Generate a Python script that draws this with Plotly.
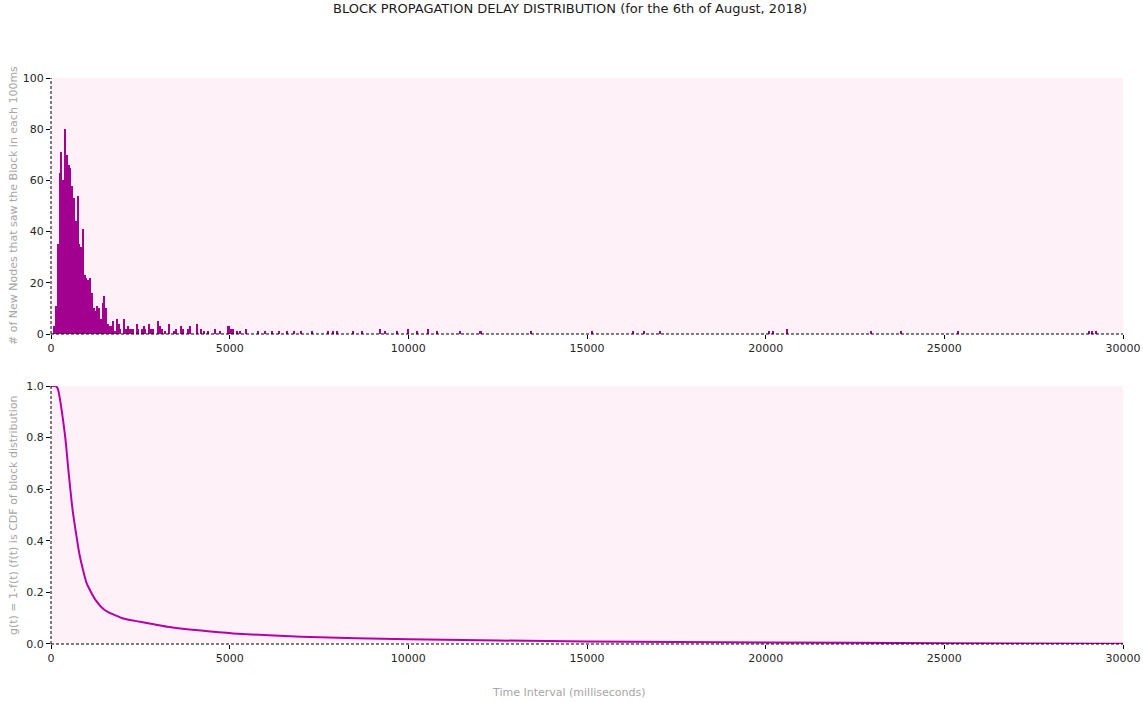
import plotly.graph_objects as go
from plotly.subplots import make_subplots

# ---- data ----
# histogram: bin position (ms) and number of new nodes
bin_times = [
    100, 150, 200, 250, 300, 350, 400, 450, 500, 550, 600, 650, 700, 750, 800, 850,
    900, 950, 1000, 1050, 1100, 1150, 1200, 1250, 1300, 1350, 1400, 1450, 1500, 1550,
    1600, 1650,
    1700, 1750, 1800, 1850, 1900, 1950, 2050, 2100, 2150, 2200, 2250, 2300, 2400, 2450,
    2550, 2600, 2650, 2750, 2800, 2850, 3000, 3050, 3100, 3200, 3300, 3450, 3500, 3650,
    3700, 3850, 3900, 4100, 4200, 4300, 4400, 4600, 4750, 4950, 5000, 5050, 5100, 5200,
    5300, 5450, 5800, 6000, 6200, 6400, 6600, 6800, 7000, 7300, 7750, 7900, 8000, 8450,
    8700, 9200, 9350, 9700, 10000, 10250, 10550, 10800, 11450, 12000, 12050, 13450,
    15150, 16300, 16600, 17050, 20100, 20200, 20600, 22950, 23800, 25400, 29050, 29150,
    29250,
]
bin_counts = [
    3, 11, 35, 63, 71, 60, 80, 70, 66, 65, 58, 53, 44, 54, 35, 34,
    41, 23, 22, 21, 22, 16, 10, 9, 11, 10, 6, 12, 15, 10,
    4, 3,
    3, 5, 1, 6, 4, 2, 6, 2, 3, 2, 2, 2, 4, 2,
    2, 3, 2, 4, 2, 2, 5, 3, 2, 1, 4, 1, 2, 3,
    2, 2, 3, 4, 2, 1, 1, 2, 1, 3, 3, 2, 2, 1,
    1, 2, 1, 1, 1, 1, 1, 1, 1, 1, 1, 1, 1, 1,
    1, 2, 1, 1, 2, 1, 2, 1, 1, 1, 1, 1,
    1, 1, 1, 1, 1, 1, 2, 1, 1, 1, 1, 1,
    1,
]

# survival curve g(t) = 1 - F(t)
cdf_times = [0, 100, 150, 200, 250, 300, 400, 500, 600, 700, 800, 900, 1000, 1250,
             1500, 2000, 2500, 3250, 4200, 5100, 7000, 10000, 15000, 20000, 25000, 30000]
cdf_values = [1.0, 1.0, 0.998, 0.985, 0.95, 0.905, 0.80, 0.655, 0.525, 0.43, 0.345, 0.285,
              0.235, 0.17, 0.132, 0.10, 0.086, 0.067, 0.052, 0.041, 0.028, 0.018, 0.010,
              0.006, 0.003, 0.001]

x_ticks = [0, 5000, 10000, 15000, 20000, 25000, 30000]

TITLE = "BLOCK PROPAGATION DELAY DISTRIBUTION (for the 6th of August, 2018)"
Y1_LABEL = "# of New Nodes that saw the Block in each 100ms"
Y2_LABEL = "g(t) = 1-f(t) (f(t) is CDF of block distribution"
X_LABEL = "Time Interval (milliseconds)"

BG = "#fff1f7"
BAR_COLOR = "#a2008e"
LINE_COLOR = "#b400a6"
FONT = "DejaVu Sans"

fig = make_subplots(rows=2, cols=1, vertical_spacing=0.0)

fig.add_trace(go.Bar(x=bin_times, y=bin_counts, width=42,
                     marker=dict(color=BAR_COLOR, line=dict(width=0)),
                     showlegend=False), row=1, col=1)
fig.add_trace(go.Scatter(x=cdf_times, y=cdf_values, mode="lines",
                         line=dict(color=LINE_COLOR, width=2, shape="spline", smoothing=0.6),
                         showlegend=False), row=2, col=1)

axis_common = dict(showgrid=False, zeroline=False, showline=False, ticks="outside",
                   ticklen=4, tickwidth=1, tickcolor="black", automargin=False,
                   tickfont=dict(family=FONT, size=11, color="#262626"))

fig.update_xaxes(range=[0, 30000], tickvals=x_ticks, ticktext=[str(v) for v in x_ticks],
                 **axis_common)
fig.update_yaxes(**axis_common)
fig.update_yaxes(range=[0, 100], tickvals=[0, 20, 40, 60, 80, 100], row=1, col=1)
fig.update_yaxes(range=[0, 1], tickvals=[0, 0.2, 0.4, 0.6, 0.8, 1.0], tickformat=".1f",
                 row=2, col=1)

fig.update_layout(
    width=1143, height=702,
    margin=dict(l=51, r=20, t=78, b=58),
    paper_bgcolor="white",
    plot_bgcolor=BG,
    bargap=0,
    font=dict(family=FONT),
    title=dict(text=TITLE, x=570 / 1143, xanchor="center", xref="container",
               y=1 - 8 / 702, yref="container", yanchor="middle", automargin=False,
               font=dict(family=FONT, size=13, color="#1a1a1a")),
)
fig.layout.yaxis.domain = [0.5477, 1.0]
fig.layout.yaxis2.domain = [0.0, 0.4558]

# dashed spines (left and bottom) for both panels
for xa, ya in (("x", "y"), ("x2", "y2")):
    fig.add_shape(type="line", xref=f"{xa} domain", yref=f"{ya} domain",
                  x0=0, x1=0, y0=0, y1=1,
                  line=dict(color="black", width=1, dash="3px,2px"))
    fig.add_shape(type="line", xref=f"{xa} domain", yref=f"{ya} domain",
                  x0=0, x1=1, y0=0, y1=0,
                  line=dict(color="black", width=1, dash="3px,2px"))

label_font = dict(family=FONT, size=11, color="#a6a6a6")
fig.add_annotation(text=Y1_LABEL, xref="paper", yref="paper", x=-(51 - 13) / 1072,
                   y=(0.5477 + 1.0) / 2, textangle=-90, showarrow=False,
                   xanchor="center", yanchor="middle", font=label_font)
fig.add_annotation(text=Y2_LABEL, xref="paper", yref="paper", x=-(51 - 13) / 1072,
                   y=0.4558 / 2, textangle=-90, showarrow=False,
                   xanchor="center", yanchor="middle", font=label_font)
fig.add_annotation(text=X_LABEL, xref="paper", yref="paper", x=(569 - 51) / 1072,
                   y=-48 / 566, showarrow=False, xanchor="center", yanchor="middle",
                   font=label_font)

fig.write_html(
    "out.html",
    config={"displayModeBar": False},
    post_script="document.body.style.margin='0';document.body.style.overflow='hidden';",
)
